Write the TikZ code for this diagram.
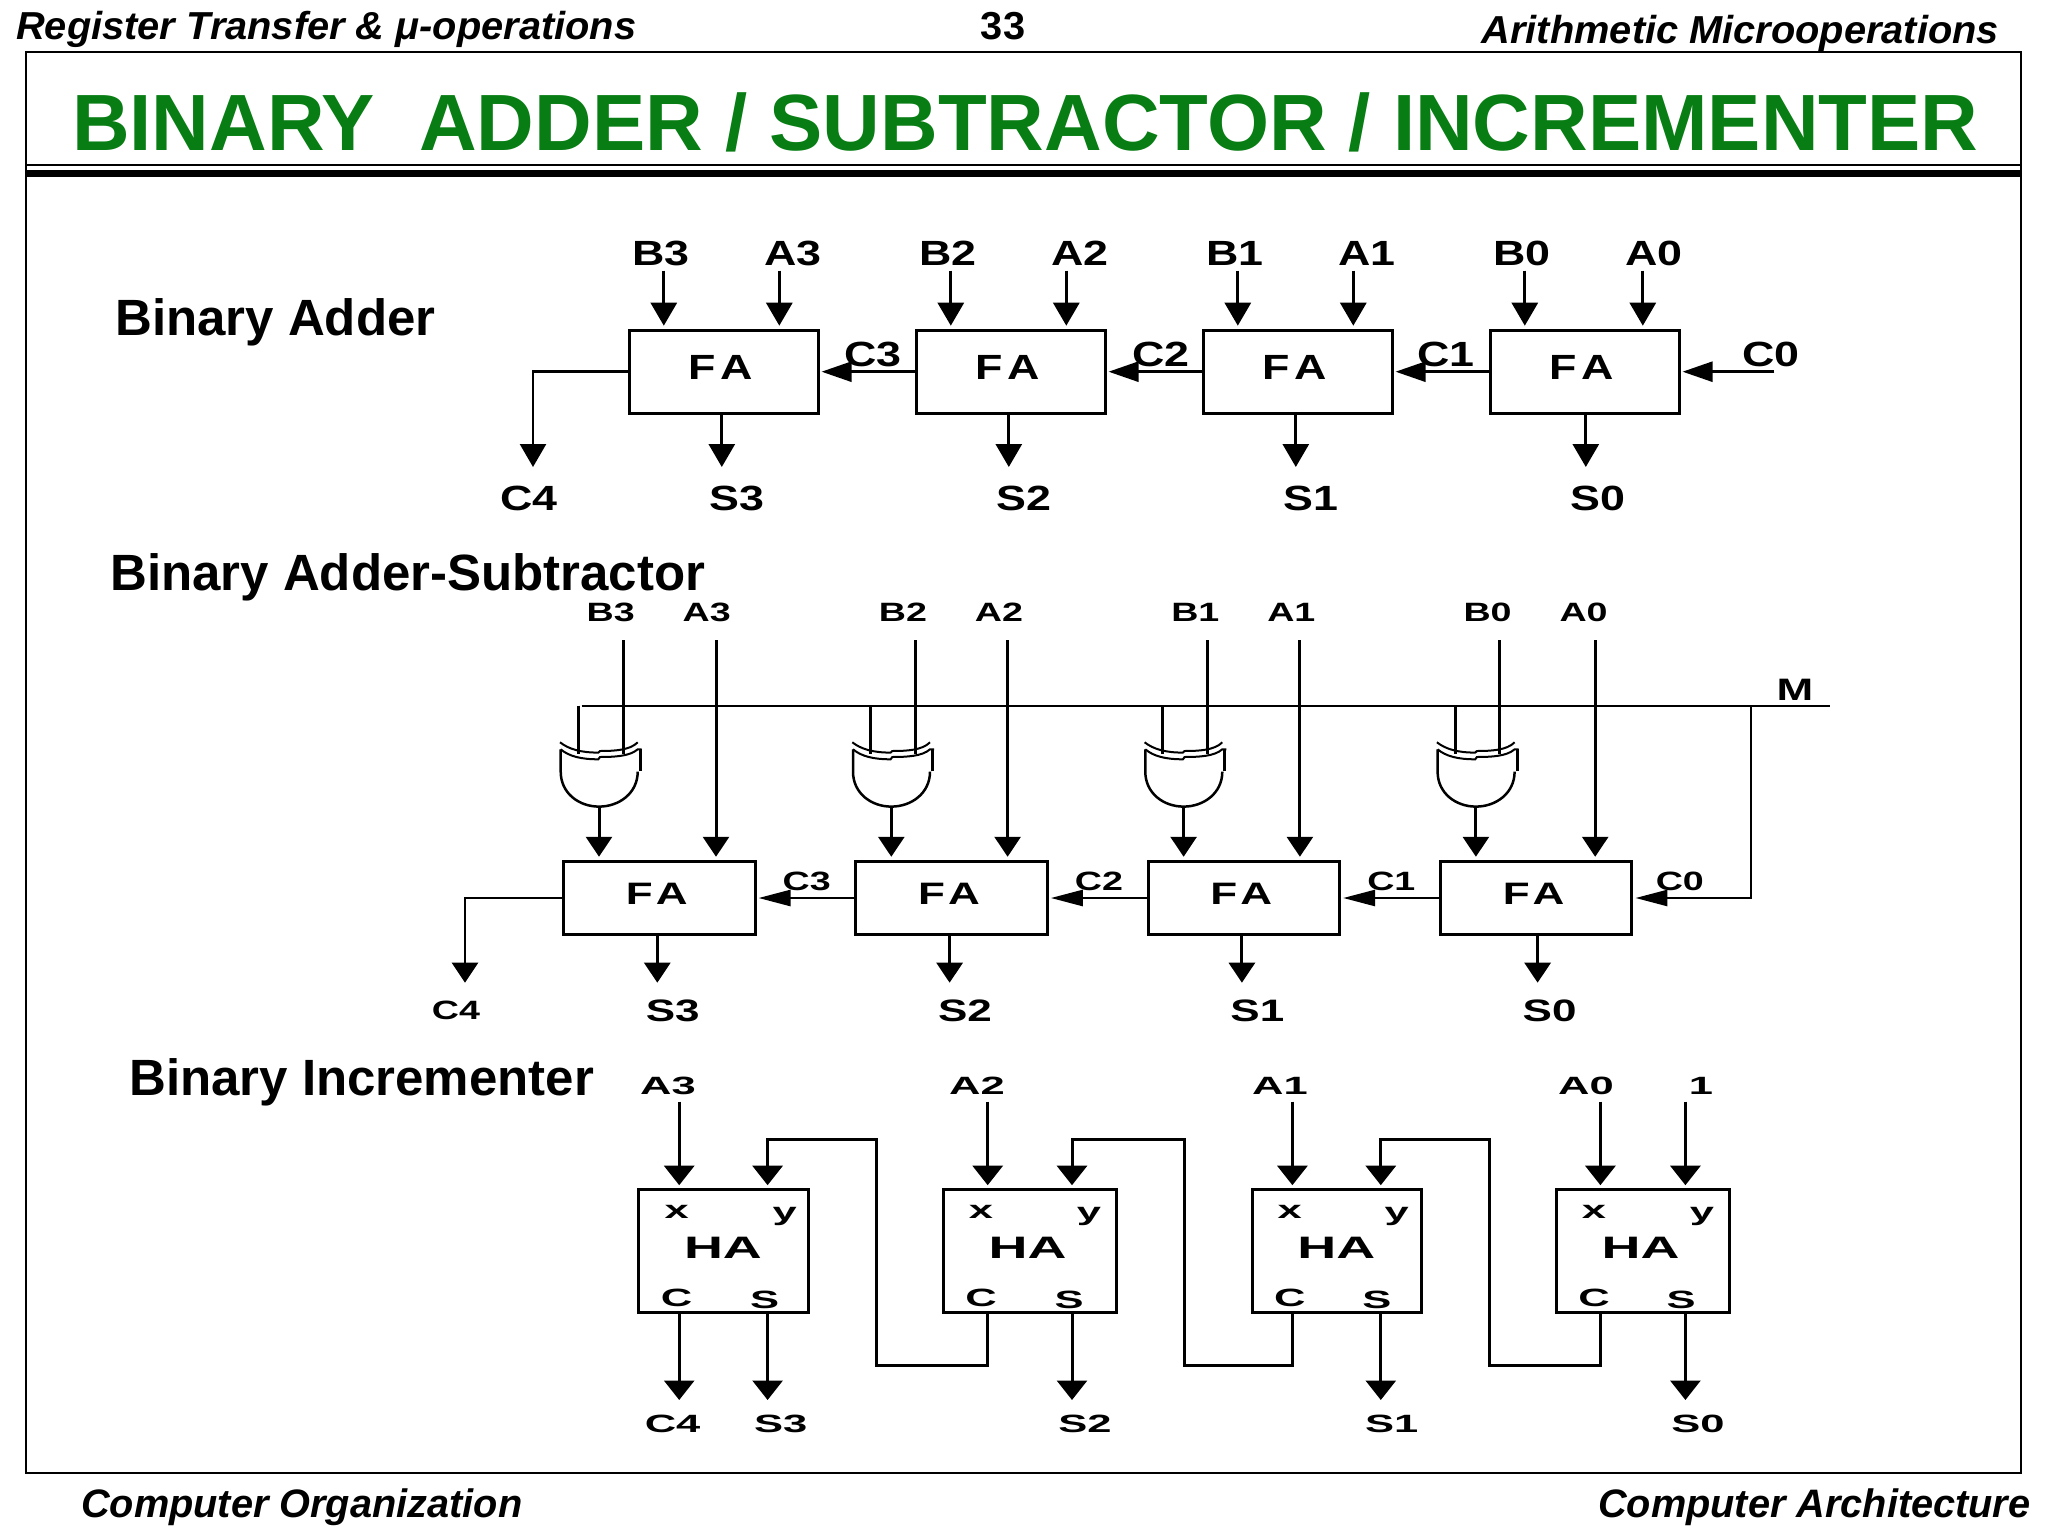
\documentclass[tikz,border=0pt]{standalone}
\usepackage{fontspec}
\usepackage{xcolor}
\usetikzlibrary{arrows.meta, calc}
\setmainfont{Liberation Sans}
\newfontfamily\pagefont{Liberation Sans}
\newfontfamily\headfont[FakeStretch=1.02]{Liberation Sans}
\newfontfamily\addfont[FakeStretch=1.28]{Liberation Sans}
\newfontfamily\subfont[FakeStretch=1.42]{Liberation Sans}
\newfontfamily\incfont[FakeStretch=1.74]{Liberation Sans}
\definecolor{titlegreen}{RGB}{8,125,20}

\begin{document}
\begin{tikzpicture}
        [x=1pt, y=-1pt,
         headsty/.style={inner sep=0pt, anchor=base west,
                         font=\headfont\bfseries\itshape\fontsize{39}{39}\selectfont},
         footsty/.style={inner sep=0pt, anchor=base west,
                         font=\pagefont\bfseries\itshape\fontsize{39.7}{39.7}\selectfont},
         rowsty/.style={inner sep=0pt, anchor=west,
                        font=\pagefont\bfseries\fontsize{51}{51}\selectfont},
         addtext/.style={inner sep=0pt, font=\addfont\bfseries\fontsize{35}{35}\selectfont},
         subtext/.style={inner sep=0pt, font=\subfont\bfseries\fontsize{26.5}{26.5}\selectfont},
         subbig/.style={inner sep=0pt, font=\subfont\bfseries\fontsize{31}{31}\selectfont},
         inctext/.style={inner sep=0pt, font=\incfont\bfseries\fontsize{25}{25}\selectfont},
         incbig/.style={inner sep=0pt, font=\incfont\bfseries\fontsize{31}{31}\selectfont},
         addcell/.style={rectangle, draw, line width=3pt, inner sep=0pt,
                         minimum width=188.5pt, minimum height=83pt},
         subcell/.style={rectangle, draw, line width=3pt, inner sep=0pt,
                         minimum width=191.5pt, minimum height=73.5pt},
         inccell/.style={rectangle, draw, line width=3pt, inner sep=0pt,
                         minimum width=169.5pt, minimum height=123pt},
         wire/.style={line width=3pt},
         addpost/.style={-{Triangle[length=23pt, width=26pt]}, line width=3pt, shorten >=3pt},
         addback/.style={-{Triangle[length=30pt, width=20pt]}, line width=2.6pt, shorten >=2pt},
         subpost/.style={-{Triangle[length=20pt, width=26pt]}, line width=3pt, shorten >=3pt},
         subback/.style={-{Triangle[length=32pt, width=16pt]}, line width=2.6pt, shorten >=2pt},
         incpost/.style={-{Triangle[length=19.5pt, width=30pt]}, line width=3pt, shorten >=3pt},
         xorgate/.pic={
                 \draw[line width=2pt] (-39,-7) .. controls (-30,0) and (-18,3.3) .. (-0.7,3.3)
                         -- (1,1.7) .. controls (15,1.7) and (31,1) .. (38.7,-7);
                 \draw[line width=2pt] (-38.3,0) .. controls (-30,7) and (-18,10) .. (-0.7,10)
                         -- (1,7.7) .. controls (15,7.7) and (31,7) .. (38.7,0) -- (42.7,0);
                 \draw[line width=2.5pt] (-38.3,0) -- (-38.3,22.3)
                         .. controls (-38.3,44) and (-20,57.3) .. (0,57.3)
                         .. controls (20,57.3) and (38.7,44) .. (38.7,22.3);
                 \draw[line width=3pt] (41.2,0) -- (41.2,21.3);
                 \coordinate (-a) at (-20.7,4.7);
                 \coordinate (-b) at (24,5);
                 \coordinate (-out) at (0,57.3);
         }]

        \useasboundingbox (0,0) rectangle (2048,1536);

        % page furniture
        \draw[line width=2pt] (26,52.5) rectangle (2020.5,1473);
        \draw[line width=2pt] (26,165) -- (2021,165);
        \draw[line width=7pt] (26,173.5) -- (2021,173.5);
        \node[headsty] (page left) at (16,39.5) {Register Transfer \& μ-operations};
        \node[inner sep=0pt, font=\headfont\bfseries\fontsize{39}{39}\selectfont, anchor=base] (page num) at (1003,39.5) {33};
        \node[headsty] (page right) at (1481.5,44) {Arithmetic Microoperations};
        \node[inner sep=0pt, text=titlegreen, font=\pagefont\bfseries\fontsize{79.8}{79.8}\selectfont] (page title)
                at (1025.3,122) {BINARY\ \ ADDER / SUBTRACTOR / INCREMENTER};
        \node[footsty] (foot left) at (81,1517.5) {Computer Organization};
        \node[footsty] (foot right) at (1598,1517.5) {Computer Architecture};

        \node[rowsty] (add title) at (115,322) {Binary Adder};
        \node[rowsty] (sub title) at (110,577) {Binary Adder-Subtractor};
        \node[rowsty] (inc title) at (129,1082) {Binary Incrementer};

        % binary adder
        \newcommand{\addshift}{287pt}
        \node[addcell] (add cell3) at (723.8,371.7) {};
        \node[addcell] (add cell2) at (add cell3) [xshift=\addshift] {};
        \node[addcell] (add cell1) at (add cell2) [xshift=\addshift] {};
        \node[addcell] (add cell0) at (add cell1) [xshift=\addshift] {};

        \node[addtext] (add fa3) at ($(add cell3) + (-3,-4)$) {F\kern4pt A};
        \node[addtext] (add fa2) at ($(add cell2) + (-3,-4)$) {F\kern4pt A};
        \node[addtext] (add fa1) at ($(add cell1) + (-3,-4)$) {F\kern4pt A};
        \node[addtext] (add fa0) at ($(add cell0) + (-3,-4)$) {F\kern4pt A};

        \node[addtext] (add b3) at ($(add cell3) + (-63,-118.7)$) {B3};
        \node[addtext] (add a3) at ($(add cell3) + (69,-118.7)$) {A3};
        \node[addtext] (add b2) at ($(add cell2) + (-63,-118.7)$) {B2};
        \node[addtext] (add a2) at ($(add cell2) + (69,-118.7)$) {A2};
        \node[addtext] (add b1) at ($(add cell1) + (-63,-118.7)$) {B1};
        \node[addtext] (add a1) at ($(add cell1) + (69,-118.7)$) {A1};
        \node[addtext] (add b0) at ($(add cell0) + (-63,-118.7)$) {B0};
        \node[addtext] (add a0) at ($(add cell0) + (69,-118.7)$) {A0};

        \node[addtext] (add s3) at ($(add cell3) + (13,126.3)$) {S3};
        \node[addtext] (add s2) at ($(add cell2) + (13,126.3)$) {S2};
        \node[addtext] (add s1) at ($(add cell1) + (13,126.3)$) {S1};
        \node[addtext] (add s0) at ($(add cell0) + (13,126.3)$) {S0};
        \node[addtext] (add c4) at ($(add cell3) + (-194.8,126.3)$) {C4};

        \node[addtext] (add c3) at ($(add cell3) + (149,-17.7)$) {C3};
        \node[addtext] (add c2) at ($(add cell2) + (150,-17.7)$) {C2};
        \node[addtext] (add c1) at ($(add cell1) + (148,-17.7)$) {C1};
        \node[addtext] (add c0) at ($(add cell0) + (186,-17.7)$) {C0};

        \coordinate (add b3 top) at ($(add cell3) + (-60,-101)$);
        \coordinate (add a3 top) at ($(add cell3) + (55.5,-101)$);
        \coordinate (add b2 top) at ($(add cell2) + (-60,-101)$);
        \coordinate (add a2 top) at ($(add cell2) + (55.5,-101)$);
        \coordinate (add b1 top) at ($(add cell1) + (-60,-101)$);
        \coordinate (add a1 top) at ($(add cell1) + (55.5,-101)$);
        \coordinate (add b0 top) at ($(add cell0) + (-60,-101)$);
        \coordinate (add a0 top) at ($(add cell0) + (58,-101)$);
        \draw[addpost] (add b3 top) -- (add b3 top |- add cell3.north);
        \draw[addpost] (add a3 top) -- (add a3 top |- add cell3.north);
        \draw[addpost] (add b2 top) -- (add b2 top |- add cell2.north);
        \draw[addpost] (add a2 top) -- (add a2 top |- add cell2.north);
        \draw[addpost] (add b1 top) -- (add b1 top |- add cell1.north);
        \draw[addpost] (add a1 top) -- (add a1 top |- add cell1.north);
        \draw[addpost] (add b0 top) -- (add b0 top |- add cell0.north);
        \draw[addpost] (add a0 top) -- (add a0 top |- add cell0.north);

        \coordinate (add s3 tip) at ($(add cell3) + (-2,98.3)$);
        \coordinate (add s2 tip) at ($(add cell2) + (-2,98.3)$);
        \coordinate (add s1 tip) at ($(add cell1) + (-2,98.3)$);
        \coordinate (add s0 tip) at ($(add cell0) + (1,98.3)$);
        \coordinate (add c4 tip) at ($(add cell3) + (-190.8,98.3)$);
        \coordinate (add c0 end) at ($(add cell0) + (189.6,0)$);
        \draw[addpost] (add s3 tip |- add cell3.south) -- (add s3 tip);
        \draw[addpost] (add s2 tip |- add cell2.south) -- (add s2 tip);
        \draw[addpost] (add s1 tip |- add cell1.south) -- (add s1 tip);
        \draw[addpost] (add s0 tip |- add cell0.south) -- (add s0 tip);
        \draw[addpost, line width=2.6pt] (add cell3.west) -| (add c4 tip);

        \draw[addback] (add cell2.west) -- (add cell3.east);
        \draw[addback] (add cell1.west) -- (add cell2.east);
        \draw[addback] (add cell0.west) -- (add cell1.east);
        \draw[addback] (add c0 end) -- (add cell0.east);

        % binary adder-subtractor
        \newcommand{\subshift}{292.3pt}
        \node[subcell] (sub cell3) at (659.3,898) {};
        \node[subcell] (sub cell2) at (sub cell3) [xshift=\subshift] {};
        \node[subcell] (sub cell1) at (sub cell2) [xshift=\subshift] {};
        \node[subcell] (sub cell0) at (sub cell1) [xshift=\subshift] {};

        \node[subbig] (sub fa3) at ($(sub cell3) + (-2.6,-4)$) {F\kern3pt A};
        \node[subbig] (sub fa2) at ($(sub cell2) + (-2.6,-4)$) {F\kern3pt A};
        \node[subbig] (sub fa1) at ($(sub cell1) + (-2.6,-4)$) {F\kern3pt A};
        \node[subbig] (sub fa0) at ($(sub cell0) + (-2.6,-4)$) {F\kern3pt A};

        \node[subtext] (sub b3) at ($(sub cell3) + (-48.6,-286)$) {B3};
        \node[subtext] (sub a3) at ($(sub cell3) + (47.4,-286)$) {A3};
        \node[subtext] (sub b2) at ($(sub cell2) + (-48.6,-286)$) {B2};
        \node[subtext] (sub a2) at ($(sub cell2) + (47.4,-286)$) {A2};
        \node[subtext] (sub b1) at ($(sub cell1) + (-48.6,-286)$) {B1};
        \node[subtext] (sub a1) at ($(sub cell1) + (47.4,-286)$) {A1};
        \node[subtext] (sub b0) at ($(sub cell0) + (-48.6,-286)$) {B0};
        \node[subtext] (sub a0) at ($(sub cell0) + (47.4,-286)$) {A0};

        \node[subbig] (sub s3) at ($(sub cell3) + (13.4,112.7)$) {S3};
        \node[subbig] (sub s2) at ($(sub cell2) + (13.4,112.7)$) {S2};
        \node[subbig] (sub s1) at ($(sub cell1) + (13.4,112.7)$) {S1};
        \node[subbig] (sub s0) at ($(sub cell0) + (13.4,112.7)$) {S0};
        \node[subtext] (sub c4) at ($(sub cell3) + (-203.3,112.7)$) {C4};

        \node[subtext] (sub c3) at ($(sub cell3) + (147.4,-17)$) {C3};
        \node[subtext] (sub c2) at ($(sub cell2) + (147.4,-17)$) {C2};
        \node[subtext] (sub c1) at ($(sub cell1) + (147.4,-17)$) {C1};
        \node[subtext] (sub c0) at ($(sub cell0) + (143.6,-17)$) {C0};
        \node[subbig] (sub m) at (1795,690) {M};

        \pic (xor3) at ($(sub cell3) + (-60.3,-148.7)$) {xorgate};
        \pic (xor2) at ($(sub cell2) + (-60.3,-148.7)$) {xorgate};
        \pic (xor1) at ($(sub cell1) + (-60.3,-148.7)$) {xorgate};
        \pic (xor0) at ($(sub cell0) + (-60.3,-148.7)$) {xorgate};

        \coordinate (sub m west) at (581.7,705.7);
        \coordinate (sub m east) at (1830,705.7);
        \coordinate (sub m tap) at (1751,705.7);
        \draw[wire, line width=2.2pt] (sub m west) -- (sub m east);
        \draw[wire] (xor3-a |- sub m west) -- (xor3-a);
        \draw[wire] (xor2-a |- sub m west) -- (xor2-a);
        \draw[wire] (xor1-a |- sub m west) -- (xor1-a);
        \draw[wire] (xor0-a |- sub m west) -- (xor0-a);

        \coordinate (sub b3 top) at ($(sub cell3) + (-36.3,-258)$);
        \coordinate (sub b2 top) at ($(sub cell2) + (-36.3,-258)$);
        \coordinate (sub b1 top) at ($(sub cell1) + (-36.3,-258)$);
        \coordinate (sub b0 top) at ($(sub cell0) + (-36.3,-258)$);
        \coordinate (sub a3 top) at ($(sub cell3) + (56.7,-258)$);
        \coordinate (sub a2 top) at ($(sub cell2) + (56,-258)$);
        \coordinate (sub a1 top) at ($(sub cell1) + (56,-258)$);
        \coordinate (sub a0 top) at ($(sub cell0) + (59,-258)$);
        \draw[wire] (sub b3 top) -- (xor3-b);
        \draw[wire] (sub b2 top) -- (xor2-b);
        \draw[wire] (sub b1 top) -- (xor1-b);
        \draw[wire] (sub b0 top) -- (xor0-b);
        \draw[subpost] (sub a3 top) -- (sub a3 top |- sub cell3.north);
        \draw[subpost] (sub a2 top) -- (sub a2 top |- sub cell2.north);
        \draw[subpost] (sub a1 top) -- (sub a1 top |- sub cell1.north);
        \draw[subpost] (sub a0 top) -- (sub a0 top |- sub cell0.north);
        \draw[subpost] (xor3-out) -- (xor3-out |- sub cell3.north);
        \draw[subpost] (xor2-out) -- (xor2-out |- sub cell2.north);
        \draw[subpost] (xor1-out) -- (xor1-out |- sub cell1.north);
        \draw[subpost] (xor0-out) -- (xor0-out |- sub cell0.north);

        \coordinate (sub s3 tip) at ($(sub cell3) + (-2,87.7)$);
        \coordinate (sub s2 tip) at ($(sub cell2) + (-2,87.7)$);
        \coordinate (sub s1 tip) at ($(sub cell1) + (-2,87.7)$);
        \coordinate (sub s0 tip) at ($(sub cell0) + (1.4,87.7)$);
        \coordinate (sub c4 tip) at ($(sub cell3) + (-194.3,87.7)$);
        \draw[subpost] (sub s3 tip |- sub cell3.south) -- (sub s3 tip);
        \draw[subpost] (sub s2 tip |- sub cell2.south) -- (sub s2 tip);
        \draw[subpost] (sub s1 tip |- sub cell1.south) -- (sub s1 tip);
        \draw[subpost] (sub s0 tip |- sub cell0.south) -- (sub s0 tip);
        \draw[subpost, line width=2.6pt] (sub cell3.west) -| (sub c4 tip);

        \draw[subback] (sub cell2.west) -- (sub cell3.east);
        \draw[subback] (sub cell1.west) -- (sub cell2.east);
        \draw[subback] (sub cell0.west) -- (sub cell1.east);
        \draw[subback] (sub m tap) |- (sub cell0.east);

        % binary incrementer
        \node[inccell] (inc cell3) at (723.6,1251.2) {};
        \node[inccell, minimum width=172.5pt] (inc cell2) at (inc cell3) [xshift=306.4pt] {};
        \node[inccell] (inc cell1) at (inc cell2) [xshift=306.8pt] {};
        \node[inccell, minimum width=173.5pt] (inc cell0) at (inc cell1) [xshift=306.2pt] {};

        \node[incbig] (inc ha3) at ($(inc cell3) + (-0.6,-3)$) {HA};
        \node[incbig] (inc ha2) at ($(inc cell2) + (-2.5,-3)$) {HA};
        \node[incbig] (inc ha1) at ($(inc cell1) + (-0.4,-3)$) {HA};
        \node[incbig] (inc ha0) at ($(inc cell0) + (-2.4,-3)$) {HA};

        \node[inctext] (inc x3) at ($(inc cell3) + (-47,-39.5)$) {x};
        \node[inctext] (inc y3) at ($(inc cell3) + (61,-35)$) {y};
        \node[inctext] (inc p3) at ($(inc cell3) + (-47,47)$) {C};
        \node[inctext] (inc q3) at ($(inc cell3) + (41,49)$) {S};
        \node[inctext] (inc x2) at ($(inc cell2) + (-49,-39.5)$) {x};
        \node[inctext] (inc y2) at ($(inc cell2) + (59,-35)$) {y};
        \node[inctext] (inc p2) at ($(inc cell2) + (-49,47)$) {C};
        \node[inctext] (inc q2) at ($(inc cell2) + (39,49)$) {S};
        \node[inctext] (inc x1) at ($(inc cell1) + (-47,-39.5)$) {x};
        \node[inctext] (inc y1) at ($(inc cell1) + (60,-35)$) {y};
        \node[inctext] (inc p1) at ($(inc cell1) + (-47,47)$) {C};
        \node[inctext] (inc q1) at ($(inc cell1) + (40,49)$) {S};
        \node[inctext] (inc x0) at ($(inc cell0) + (-49,-39.5)$) {x};
        \node[inctext] (inc y0) at ($(inc cell0) + (59,-35)$) {y};
        \node[inctext] (inc p0) at ($(inc cell0) + (-49,47)$) {C};
        \node[inctext] (inc q0) at ($(inc cell0) + (38,49)$) {S};

        \node[inctext] (inc a3) at ($(inc cell3) + (-55.6,-165)$) {A3};
        \node[inctext] (inc a2) at ($(inc cell2) + (-53,-165)$) {A2};
        \node[inctext] (inc a1) at ($(inc cell1) + (-56.8,-165)$) {A1};
        \node[inctext] (inc a0) at ($(inc cell0) + (-57,-165)$) {A0};
        \node[inctext] (inc one) at ($(inc cell0) + (58,-165)$) {1};

        \node[inctext] (inc c4) at ($(inc cell3) + (-51,172.8)$) {C4};
        \node[inctext] (inc s3) at ($(inc cell3) + (57,172.8)$) {S3};
        \node[inctext] (inc s2) at ($(inc cell2) + (55,172.8)$) {S2};
        \node[inctext] (inc s1) at ($(inc cell1) + (55,172.8)$) {S1};
        \node[inctext] (inc s0) at ($(inc cell0) + (55,172.8)$) {S0};

        \coordinate (inc x3 top) at ($(inc cell3) + (-44.4,-149.5)$);
        \coordinate (inc x2 top) at ($(inc cell2) + (-42.3,-149.5)$);
        \coordinate (inc x1 top) at ($(inc cell1) + (-44.4,-149.5)$);
        \coordinate (inc x0 top) at ($(inc cell0) + (-42.6,-149.5)$);
        \coordinate (inc y3 top) at ($(inc cell3) + (44,-149.5)$);
        \coordinate (inc y2 top) at ($(inc cell2) + (42,-149.5)$);
        \coordinate (inc y1 top) at ($(inc cell1) + (44,-149.5)$);
        \coordinate (inc y0 top) at ($(inc cell0) + (42.4,-149.5)$);
        \draw[incpost] (inc x3 top) -- (inc x3 top |- inc cell3.north);
        \draw[incpost] (inc x2 top) -- (inc x2 top |- inc cell2.north);
        \draw[incpost] (inc x1 top) -- (inc x1 top |- inc cell1.north);
        \draw[incpost] (inc x0 top) -- (inc x0 top |- inc cell0.north);
        \draw[incpost] (inc y0 top) -- (inc y0 top |- inc cell0.north);

        \coordinate (inc c4 tip) at ($(inc x3 top |- inc cell3) + (0,151.8)$);
        \coordinate (inc s3 tip) at ($(inc y3 top |- inc cell3) + (0,151.8)$);
        \coordinate (inc s2 tip) at ($(inc y2 top |- inc cell2) + (0,151.8)$);
        \coordinate (inc s1 tip) at ($(inc y1 top |- inc cell1) + (0,151.8)$);
        \coordinate (inc s0 tip) at ($(inc y0 top |- inc cell0) + (0,151.8)$);
        \draw[incpost] (inc c4 tip |- inc cell3.south) -- (inc c4 tip);
        \draw[incpost] (inc s3 tip |- inc cell3.south) -- (inc s3 tip);
        \draw[incpost] (inc s2 tip |- inc cell2.south) -- (inc s2 tip);
        \draw[incpost] (inc s1 tip |- inc cell1.south) -- (inc s1 tip);
        \draw[incpost] (inc s0 tip |- inc cell0.south) -- (inc s0 tip);

        \coordinate (inc loop3 low) at (876,1365);
        \coordinate (inc loop3 high) at (876,1139.3);
        \coordinate (inc loop2 low) at (1184.4,1365);
        \coordinate (inc loop2 high) at (1184.4,1139.3);
        \coordinate (inc loop1 low) at (1489,1365);
        \coordinate (inc loop1 high) at (1489,1139.3);
        \draw[incpost] (inc x2 top |- inc cell2.south) |- (inc loop3 low) -- (inc loop3 high)
                -| (inc y3 top |- inc cell3.north);
        \draw[incpost] (inc x1 top |- inc cell1.south) |- (inc loop2 low) -- (inc loop2 high)
                -| (inc y2 top |- inc cell2.north);
        \draw[incpost] (inc x0 top |- inc cell0.south) |- (inc loop1 low) -- (inc loop1 high)
                -| (inc y1 top |- inc cell1.north);
\end{tikzpicture}
\end{document}
